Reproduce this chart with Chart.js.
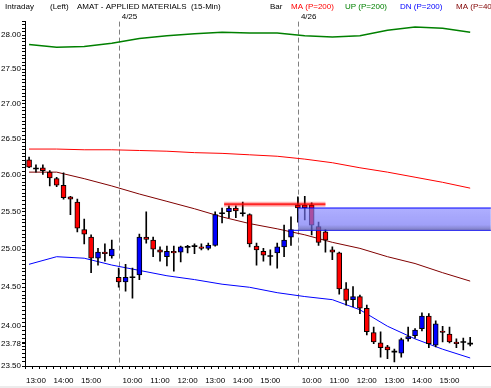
<!DOCTYPE html>
<html>
<head>
<meta charset="utf-8">
<script src="https://cdn.jsdelivr.net/npm/chart.js@4.4.0/dist/chart.umd.min.js"></script>
<style>
  html, body { margin: 0; padding: 0; background: #ececec; }
  #chart { display: block; background: #fff; }
</style>
</head>
<body>
<canvas id="chart" width="491" height="386"></canvas>
<script>
// AMAT 15-min bars, index 0 = 4/24 12:45, 13 = 4/25 9:30, 39 = 4/26 9:30
const opens  = [26.21, 26.09, 26.10, 26.04, 25.95, 25.86, 25.70, 25.63, 25.26, 25.16, 24.88, 24.96, 24.91,
                24.63, 24.57, 24.63, 24.66, 25.16, 25.12, 24.99, 24.90, 24.97, 24.96, 25.03, 25.04, 25.03, 25.01,
                25.05, 25.48, 25.50, 25.55, 25.48, 25.46, 25.04, 24.97, 24.91, 24.95, 25.03, 25.16,
                25.59, 25.59, 25.59, 25.30, 25.23, 24.99, 24.95, 24.48, 24.34, 24.38, 24.23, 23.92, 23.79,
                23.74, 23.68, 23.66, 23.84, 23.88, 23.97, 24.13, 23.76, 23.94, 23.90, 23.80, 23.80, 23.78];
const highs  = [26.25, 26.14, 26.14, 26.06, 25.97, 26.03, 25.71, 25.67, 25.40, 25.19, 25.01, 25.07, 25.12,
                24.75, 24.80, 24.75, 25.20, 25.50, 25.16, 25.03, 25.04, 25.04, 25.04, 25.05, 25.07, 25.07, 25.08,
                25.50, 25.55, 25.58, 25.58, 25.63, 25.47, 25.08, 25.01, 24.99, 25.08, 25.32, 25.43,
                25.70, 25.71, 25.62, 25.36, 25.26, 25.03, 24.96, 24.56, 24.51, 24.40, 24.27, 23.99, 23.93,
                23.76, 23.71, 23.85, 23.99, 23.97, 24.17, 24.16, 24.07, 24.00, 23.99, 23.84, 23.85, 23.86];
const lows   = [26.10, 26.04, 26.01, 25.85, 25.84, 25.67, 25.46, 25.23, 25.07, 24.69, 24.79, 24.84, 24.88,
                24.50, 24.45, 24.36, 24.60, 25.08, 24.90, 24.84, 24.78, 24.71, 24.83, 24.95, 24.94, 24.99, 24.99,
                25.04, 25.35, 25.42, 25.42, 25.44, 25.03, 24.79, 24.84, 24.79, 24.75, 24.90, 25.05,
                25.36, 25.39, 25.19, 25.05, 24.96, 24.86, 24.41, 24.27, 24.25, 24.16, 23.89, 23.78, 23.61,
                23.59, 23.55, 23.61, 23.81, 23.85, 23.94, 23.73, 23.74, 23.80, 23.79, 23.73, 23.70, 23.75];
const closes = [26.11, 26.09, 26.06, 25.96, 25.86, 25.69, 25.67, 25.28, 25.20, 24.88, 24.96, 24.94, 25.00,
                24.57, 24.63, 24.63, 25.16, 25.13, 25.00, 24.96, 24.97, 24.95, 25.03, 25.03, 25.04, 25.01, 25.05,
                25.46, 25.48, 25.55, 25.51, 25.48, 25.07, 24.99, 24.92, 24.91, 25.03, 25.12, 25.26,
                25.55, 25.55, 25.32, 25.09, 25.12, 24.96, 24.48, 24.33, 24.38, 24.23, 23.93, 23.80, 23.73,
                23.70, 23.68, 23.83, 23.87, 23.95, 24.13, 23.78, 24.03, 23.92, 23.80, 23.78, 23.80, 23.78];

// indicator lines, read every 4 bars
const lineIdx = [0, 4, 8, 12, 16, 20, 24, 28, 32, 36, 40, 44, 48, 52, 56, 60, 64];
const ma200 = [26.36, 26.36, 26.35, 26.35, 26.34, 26.33, 26.31, 26.30, 26.28, 26.26, 26.22, 26.17, 26.10, 26.04, 25.97, 25.90, 25.82];
const up200 = [27.86, 27.82, 27.83, 27.88, 27.95, 27.99, 28.02, 28.04, 28.03, 28.03, 27.99, 27.97, 27.99, 28.07, 28.12, 28.10, 28.04];
const dn200 = [24.80, 24.90, 24.88, 24.79, 24.72, 24.65, 24.60, 24.54, 24.50, 24.43, 24.38, 24.34, 24.21, 24.00, 23.84, 23.71, 23.60];
const ma40  = [26.04, 26.04, 25.95, 25.85, 25.74, 25.64, 25.54, 25.43, 25.34, 25.27, 25.19, 25.09, 25.01, 24.90, 24.81, 24.69, 24.58];

// drawn annotations
const resistLevel = 25.60;
const resistSpan = [28.3, 43];
const zoneTop = 25.55;
const zoneBottom = 25.25;
const zoneSpan = [39, 67];
const zoneLineSpan = [37.6, 67];

// axes
const hourTickIdx  = [1, 5, 9, 15, 19, 23, 27, 31, 35, 41, 45, 49, 53, 57, 61];
const hourTickText = ['13:00', '14:00', '15:00', '10:00', '11:00', '12:00', '13:00', '14:00', '15:00',
                      '10:00', '11:00', '12:00', '13:00', '14:00', '15:00'];
const dayStartIdx = [13, 39];
const dayText = ['4/25', '4/26'];
const yTickLabels = ['28.00', '27.50', '27.00', '26.50', '26.00', '25.50', '25.00', '24.50', '24.00', '23.78', '23.50'];

const FONT = '"Liberation Sans", Arial, sans-serif';
const barStep = 7; // px per bar

// bodies and wicks
var bodies = [], wicks = [], bodyColors = [], bodyBorders = [];
for (var i = 0; i < opens.length; i++) {
  var o = opens[i], c = closes[i];
  wicks.push({ x: i, y: [lows[i], highs[i]] });
  if (o === c) {
    bodies.push({ x: i, y: [o - 0.006, o + 0.006] });
    bodyColors.push('#000');
    bodyBorders.push(0);
  } else {
    bodies.push({ x: i, y: [Math.min(o, c), Math.max(o, c)] });
    bodyColors.push(c > o ? '#0000ff' : '#ff0000');
    bodyBorders.push(1);
  }
}

function pts(vals) {
  return lineIdx.map(function (x, k) { return { x: x, y: vals[k] }; });
}

var yTicks = [];
for (var k = 470; k <= 564; k++) yTicks.push(k * 0.05);
yTicks.push(23.78);

const overlay = {
  id: 'overlay',
  beforeDatasetsDraw: function (chart) {
    var ctx = chart.ctx, x = chart.scales.x, a = chart.chartArea;
    ctx.save();
    ctx.strokeStyle = '#808080';
    ctx.lineWidth = 1;
    ctx.setLineDash([5, 3]);
    dayStartIdx.forEach(function (d) {
      var px = Math.round(x.getPixelForValue(d)) + 0.5;
      ctx.beginPath();
      ctx.moveTo(px, a.top);
      ctx.lineTo(px, a.bottom);
      ctx.stroke();
    });
    ctx.restore();
  },
  afterDraw: function (chart) {
    var ctx = chart.ctx, x = chart.scales.x;
    ctx.save();
    ctx.font = '8px ' + FONT;
    ctx.textBaseline = 'alphabetic';
    ctx.textAlign = 'left';
    var head = [
      ['Intraday', 5, '#000'], ['(Left)', 50, '#000'], ['AMAT - APPLIED MATERIALS  (15-Min)', 77, '#000'],
      ['Bar', 270, '#000'], ['MA (P=200)', 291, '#ff0000'], ['UP (P=200)', 345, '#008000'],
      ['DN (P=200)', 400, '#0000ff'], ['MA (P=40)', 456, '#800000']
    ];
    head.forEach(function (h) { ctx.fillStyle = h[2]; ctx.fillText(h[0], h[1], 9); });
    ctx.fillStyle = '#000';
    dayStartIdx.forEach(function (d, k) {
      ctx.fillText(dayText[k], x.getPixelForValue(d) + 3, 18.5);
    });
    ctx.restore();
  }
};

function zoneFill(context) {
  var chart = context.chart;
  if (!chart.chartArea) return 'rgba(120,120,255,0.6)';
  var y = chart.scales.y;
  var g = chart.ctx.createLinearGradient(0, y.getPixelForValue(zoneTop), 0, y.getPixelForValue(zoneBottom));
  g.addColorStop(0, 'rgba(125,125,255,0.62)');
  g.addColorStop(0.75, 'rgba(115,115,245,0.68)');
  g.addColorStop(1, 'rgba(90,90,170,0.8)');
  return g;
}

new Chart(document.getElementById('chart'), {
  data: {
    datasets: [
      { type: 'line', order: 0, data: [{ x: zoneSpan[0], y: zoneTop }, { x: zoneSpan[1], y: zoneTop }],
        borderColor: '#0000ff', borderWidth: 1, pointRadius: 0,
        fill: { target: { value: zoneBottom } }, backgroundColor: zoneFill },
      { type: 'line', order: 0, data: [{ x: zoneLineSpan[0], y: zoneBottom }, { x: zoneLineSpan[1], y: zoneBottom }],
        borderColor: '#0000ff', borderWidth: 1, pointRadius: 0 },
      { type: 'line', order: 1, data: [{ x: resistSpan[0], y: resistLevel }, { x: resistSpan[1], y: resistLevel }],
        borderColor: 'rgba(255,0,0,0.3)', borderWidth: 5, pointRadius: 0 },
      { type: 'line', order: 1, data: [{ x: resistSpan[0], y: resistLevel }, { x: resistSpan[1], y: resistLevel }],
        borderColor: 'rgba(255,0,0,0.8)', borderWidth: 2, pointRadius: 0 },
      { type: 'bar', order: 2, data: bodies, backgroundColor: bodyColors, borderColor: '#000',
        borderWidth: bodyBorders, borderSkipped: false, barThickness: 5, grouped: false },
      { type: 'bar', order: 3, data: wicks, backgroundColor: '#000', borderWidth: 0,
        barThickness: 1, grouped: false },
      { type: 'line', order: 4, data: pts(ma200), borderColor: '#ff0000', borderWidth: 1, pointRadius: 0 },
      { type: 'line', order: 4, data: pts(up200), borderColor: '#008000', borderWidth: 1.5, pointRadius: 0 },
      { type: 'line', order: 4, data: pts(dn200), borderColor: '#0000ff', borderWidth: 1, pointRadius: 0 },
      { type: 'line', order: 4, data: pts(ma40), borderColor: '#800000', borderWidth: 1, pointRadius: 0 }
    ]
  },
  options: {
    responsive: false,
    animation: false,
    layout: { padding: { top: 21.6, left: 0, right: 0, bottom: 0 } },
    plugins: { legend: { display: false }, tooltip: { enabled: false } },
    scales: {
      x: {
        type: 'linear',
        min: -0.5 / barStep,
        max: -0.5 / barStep + 466 / barStep,
        afterBuildTicks: function (s) {
          s.ticks = opens.map(function (v, i) { return { value: i }; });
        },
        afterFit: function (s) { s.height = 20; },
        ticks: {
          autoSkip: false, maxRotation: 0, padding: 7, color: '#000',
          font: { family: FONT, size: 8 },
          callback: function (v) {
            var k = hourTickIdx.indexOf(v);
            return k >= 0 ? hourTickText[k] : '';
          }
        },
        grid: { drawOnChartArea: false, drawTicks: true, tickLength: 3, color: '#000' },
        border: { color: '#000' }
      },
      y: {
        type: 'logarithmic',
        min: 23.5,
        max: 28.2,
        afterBuildTicks: function (s) {
          s.ticks = yTicks.map(function (v) { return { value: v }; });
        },
        afterFit: function (s) { s.width = 25; },
        ticks: {
          autoSkip: false, padding: 1, color: '#000',
          font: { family: FONT, size: 8 },
          callback: function (v) {
            for (var j = 0; j < yTickLabels.length; j++) {
              if (Math.abs(parseFloat(yTickLabels[j]) - v) < 1e-6) return yTickLabels[j];
            }
            return '';
          }
        },
        grid: { drawOnChartArea: false, drawTicks: true, tickLength: 3, color: '#000' },
        border: { color: '#000' }
      }
    }
  },
  plugins: [overlay]
});
</script>
</body>
</html>
